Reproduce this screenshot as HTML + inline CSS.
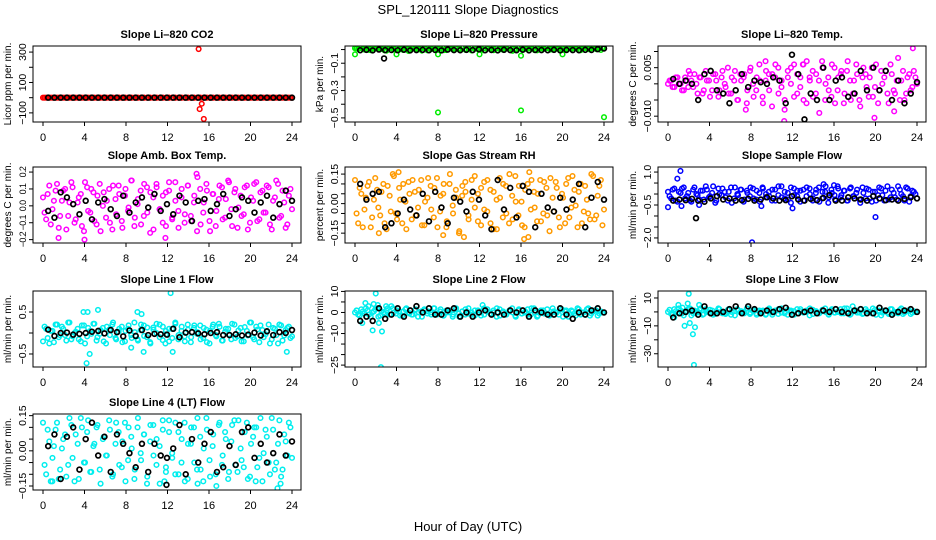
<!DOCTYPE html>
<html><head><meta charset="utf-8"><style>
html,body{margin:0;padding:0;background:#fff;}
svg{display:block;font-family:"Liberation Sans",sans-serif;}
</style></head><body>
<svg id="chart" width="936" height="540" viewBox="0 0 936 540">
<rect x="0" y="0" width="936" height="540" fill="#fff"/>
<text x="468" y="14" font-size="13" text-anchor="middle">SPL_120111  Slope Diagnostics</text>
<text x="468" y="531" font-size="13" text-anchor="middle">Hour of Day (UTC)</text>
</svg>
<script>
// ---- data ----
const xTickLabels = [0,4,8,12,16,20,24];

const p1Col = [0,0,0,0,0,0,0,0,0,0,0,0,0,0,0,0,0,0,0,0,0,0,0,0,0,0,0,0,0,0,0,0,0,0,0,0,0,0,0,0,0,0,0,0,0,0,0,0,0,0,0,0,0,0,0,0,0,0,0,0,0,0,0,0,0,0,0,0,0,0,0,0,0,0,0,0,0,0,0,0];
const p1Col2 = [0,0,0,0,0,0,0,0,0,0,0,0,0,0,0,0,0,0,0,0,0,0,0,0,0,0,0,0,0,0,0,0,0,0,0,0,0,0,0,0,0,0,0,0,0,0,0,0,0,0,0,0,0,0,0,0,0,0,0,0,0,0,0,0,0,0,0,0,0,0,0,0,0,0,0,0,0,0,0,0];
const p1Blk = [0,0,0,0,0,0,0,0,0,0,0,0,0,0,0,0,0,0,0,0,0,0,0,0,0,0,0,0,0,0,0,0,0,0,0,0,0,0,0,0];
const p1OutX = [15,15.1,15.3,15.5];
const p1OutY = [320,-75,-40,-140];
const p1BOutX = [], p1BOutY = [];

const p2Col = [.01,.005,.012,0,.008,-.005,.01,.012,.003,.009,-.008,.011,.006,.012,0,.01,.004,-.01,.012,.008,.002,.011,.007,-.006,.012,.009,.003,.01,.012,-.004,.006,.011,.008,0,.012,.005,.01,-.007,.012,.009,.004,.011,.006,.012,-.005,.01,.002,.012,.008,.011,-.009,.006,.012,.003,.01,.007,.012,-.004,.009,.011,.005,.012,0,.01,.008,-.006,.012,.004,.011,.009,.012,-.005,.007,.012,.003,.01,.008,.012,-.003,.011];
const p2Col2 = [.008,.012,.004,.01,-.002,.011,.007,.012,.005,-.006,.01,.012,.002,.009,.011,-.003,.012,.006,.01,.004,.012,-.008,.009,.011,.003,.012,.007,.01,-.005,.012,.008,.004,.011,.01,.012,-.002,.006,.012,.009,.003,.011,-.007,.012,.008,.005,.01,.012,0,.009,.011,.006,-.004,.012,.01,.003,.011,.008,.012,-.006,.009,.005,.012,.01,.002,.011,.007,-.003,.012,.009,.004,.011,.012,-.005,.008,.01,.006,.012,.003,.011,.009];
const p2Blk = [-.005,-.002,-.006,0,-.004,-.003,-.005,-.001,-.006,-.004,-.002,-.005,-.003,-.006,0,-.004,-.005,-.002,-.004,.002,-.005,-.003,-.006,-.002,-.004,-.005,-.001,-.006,-.003,-.004,-.005,-.002,-.006,-.003,-.004,-.005,-.002,-.003,.003,.008];
const p2OutX = [0,4,8,12,16,20,8,16,24];
const p2OutY = [-.035,-.035,-.035,-.035,-.045,-.035,-.46,-.445,-.495];
const p2BOutX = [2.8], p2BOutY = [-.065];

const p3Col = [0,.001,-.001,.002,0,-.002,.001,.003,-.001,0,.002,-.003,.004,.001,-.002,.003,-.004,.002,0,.005,-.003,.001,-.005,.003,.002,-.006,.004,0,-.002,.006,-.004,.001,.003,-.007,.002,.005,-.001,-.008,.004,0,.006,-.003,.002,-.005,.007,.001,-.004,.003,-.009,.005,0,-.002,.006,-.006,.002,.004,-.003,.007,-.005,.001,.003,-.007,.005,-.001,.002,-.004,.006,-.002,0,.004,-.006,.003,-.003,.008,.001,-.005,.002,-.002,.004,0];
const p3Col2 = [.001,-.001,.002,0,-.002,.002,-.001,.001,.003,-.003,.002,-.002,.001,-.004,.003,.001,-.002,.004,-.001,-.003,.002,.004,-.005,.001,.003,-.002,.005,-.004,.002,.001,-.006,.004,-.002,.003,.006,-.003,.001,-.005,.002,.005,-.004,.003,-.001,.006,-.006,.002,.004,-.003,.001,.007,-.005,.002,-.004,.005,-.002,.003,-.006,.004,.001,-.003,.006,-.005,.002,.003,-.004,.005,-.001,-.006,.004,.002,-.003,.006,-.002,.001,-.005,.004,-.003,.003,-.001,.002];
const p3Blk = [.0015,0,.001,0,-.005,.003,.004,-.002,-.003,-.006,-.002,.003,-.001,.001,.0005,0,.002,.001,-.006,.009,.003,-.011,-.003,-.005,.005,-.005,.001,.002,-.004,-.003,.004,-.002,.005,-.002,.004,-.005,.001,-.006,-.003,.0005];
const p3OutX = [23.6,11.2,19.9,7.5,2,9.4,13,21.8];
const p3OutY = [.011,-.0115,-.0105,-.008,.004,.007,.006,-.0085];
const p3BOutX = [], p3BOutY = [];

const p4Col = [.05,-.08,.12,-.02,.09,-.13,.03,.1,-.06,.14,-.1,.02,.07,-.15,.11,-.04,.08,-.11,.13,0,-.07,.1,-.14,.04,.12,-.09,.06,-.03,.15,-.12,.01,.09,-.06,.11,-.16,.05,.13,-.02,-.1,.08,.14,-.07,.03,-.13,.1,-.05,.12,-.09,.06,.17,-.11,.02,.09,-.15,.07,-.03,.12,-.08,.04,.14,-.12,.1,-.01,-.06,.11,-.14,.05,.13,-.09,.08,-.04,.12,-.11,.03,.15,-.07,.09,-.13,.06,-.02];
const p4Col2 = [-.04,.07,-.11,.03,.13,-.06,.09,-.14,.02,.11,-.08,.05,-.12,.14,-.03,.1,-.09,.06,-.15,.08,.03,-.1,.12,-.05,.07,-.13,.1,-.01,.15,-.07,.04,-.11,.13,-.04,.08,-.14,.11,-.02,.06,-.12,.09,-.08,.14,-.03,.05,-.1,.12,-.06,.02,-.15,.1,-.04,.13,-.09,.07,-.12,.04,.11,-.07,.15,-.02,.08,-.13,.06,-.05,.12,-.1,.03,.14,-.08,.09,-.04,.11,-.14,.05,.13,-.06,.02,-.11,.1];
const p4Blk = [-.03,-.07,.08,.05,.01,-.05,.03,-.08,.02,.04,-.02,-.06,.06,-.04,.02,.05,-.01,.07,-.03,.01,-.05,.06,.02,-.09,.03,.04,-.03,.01,.07,-.06,-.02,.05,.03,-.04,.02,.06,-.07,.01,.09,.03];
const p4OutX = [14.8,4,1.5,11.8];
const p4OutY = [.19,-.2,-.19,-.19];
const p4BOutX = [], p4BOutY = [];

const p5Col = [.12,-.1,.05,-.03,.09,-.12,.02,.07,-.06,.1,-.13,.04,.15,-.05,.08,-.1,.01,.11,-.08,.06,-.02,.12,-.11,.03,.09,-.07,.13,-.04,.05,-.12,.1,-.01,.07,-.15,.04,.11,-.06,.02,.14,-.09,.08,-.03,.12,-.1,.06,-.13,.03,.1,-.05,.15,-.08,.01,.09,-.11,.07,-.17,.12,-.02,.05,-.09,.11,-.06,.13,-.04,.08,-.12,.03,.1,-.07,.14,-.01,.06,-.1,.09,-.05,.15,-.08,.04,.12,-.03];
const p5Col2 = [-.05,.08,-.12,.03,.11,-.07,.13,-.02,.06,-.1,.09,-.04,.14,-.08,.02,.1,-.13,.05,.12,-.06,.07,-.11,.01,.13,-.03,.08,-.12,.04,.1,-.09,.15,-.05,.03,-.14,.09,.06,-.08,.12,-.02,.05,-.11,.11,-.04,.07,-.13,.02,.13,-.07,.09,-.1,.04,.14,-.06,.01,-.12,.1,-.03,.06,-.09,.12,-.05,.08,-.14,.03,.11,-.07,.05,-.1,.13,-.02,.07,-.12,.1,-.04,.02,-.08,.14,-.06,.09,-.11];
const p5Blk = [.1,.02,.05,.06,-.12,-.1,-.05,.02,-.03,-.06,.05,-.09,.06,-.02,-.1,.03,.01,-.04,.06,.02,-.06,-.13,.12,-.03,.08,-.07,.09,.06,-.12,.05,-.02,-.04,.03,-.03,.02,.1,-.12,.03,.11,.02];
const p5OutX = [4.2,8.5,10.5,16.3,16.8,2.3];
const p5OutY = [.16,-.16,-.17,-.18,.16,-.15];
const p5BOutX = [], p5BOutY = [];

const p6Col = [.1,-.2,.25,-.35,.05,.3,-.1,-.3,.2,0,-.25,.15,.35,-.15,.05,-.4,.25,-.05,.1,-.3,.3,-.2,0,.2,-.35,.15,-.1,.25,-.25,.05,.3,-.15,.1,-.3,.2,-.05,.35,-.2,.05,-.4,.25,-.1,.15,-.3,.3,0,-.2,.2,-.35,.1,.35,-.15,.05,-.25,.25,-.05,.15,-.3,.3,-.1,.2,-.4,.05,.25,-.2,.1,-.3,.3,-.05,.15,-.25,.2,-.15,.35,0,-.3,.25,-.1,.1,-.2];
const p6Col2 = [-.1,.2,-.3,.1,.25,-.2,.05,-.35,.3,-.05,.15,-.25,.2,-.1,.35,-.3,0,.25,-.15,.1,-.4,.3,-.05,.2,-.25,.05,.3,-.2,.15,-.35,.25,0,-.1,.2,-.3,.35,-.15,.1,-.25,.3,-.05,.15,-.35,.2,-.1,.25,-.3,.05,.3,-.2,.1,-.4,.2,-.05,.35,-.15,.15,-.3,.25,-.1,.05,-.25,.3,-.2,.2,-.35,.1,-.05,.25,-.3,.35,-.15,.05,-.25,.2,-.1,.3,-.35,.15,0];
const p6Blk = [-.3,-.25,-.28,-.22,-.3,-.35,-.2,-.1,-.25,-.2,-.3,-.28,-.22,-.3,-.25,-.15,-.2,-.3,-.28,-.1,-.25,-.3,-.22,-.28,-.18,-.05,-.3,-.3,-.15,-.2,-.25,-.3,-.1,-.2,-.28,-.25,-.3,-.22,-.15,-.2];
const p6OutX = [0,0.9,1.2,1.3,8.1,12,20,3,9,15,16];
const p6OutY = [-.6,.7,1.05,-.55,-2.2,-.65,-1.05,-.5,-.55,.45,.4];
const p6BOutX = [2.7], p6BOutY = [-1.1];

const p7Col = [-.2,.1,-.25,.05,.2,-.1,.15,-.05,.25,-.15,0,.1,-.2,.18,-.08,.05,.22,-.18,-.02,.12,-.25,.08,.2,-.12,.03,.15,-.2,.1,-.05,.25,-.15,.07,.18,-.1,-.22,.13,0,.2,-.17,.05,.1,-.12,.22,-.05,.15,-.2,.08,-.1,.18,.02,-.15,.12,-.22,.05,.2,-.08,.15,-.18,.1,-.03,.22,-.12,.06,-.2,.14,-.06,.25,-.15,.08,.18,-.1,.03,-.25,.12,-.05,.2,-.18,.07,.15,-.08];
const p7Col2 = [.15,-.12,.05,-.22,.2,-.05,.1,-.18,.25,-.08,.03,-.15,.18,-.25,.12,-.02,.22,-.1,.07,-.2,.15,-.05,.25,-.15,.1,-.22,.05,.18,-.12,.02,-.18,.2,-.07,.13,-.25,.08,.22,-.1,.15,-.03,-.2,.1,.25,-.15,.05,-.08,.2,-.22,.12,-.02,.18,-.12,.08,-.25,.15,-.05,.22,-.18,.03,.1,-.15,.2,-.08,.12,-.2,.05,.25,-.1,.15,-.22,.07,-.03,.2,-.15,.1,-.25,.18,-.06,.12,-.12];
const p7Blk = [.08,-.07,0,.01,-.04,-.02,0,.03,.05,-.01,.07,.02,-.08,.06,-.07,.07,-.05,-.02,-.03,-.04,.1,-.1,.01,.02,-.01,-.03,0,.02,-.05,-.05,-.03,-.06,-.04,.01,-.06,.04,-.05,.02,0,.07];
const p7OutX = [4.2,4.5,3.9,4.3,5.3,9.1,9.5,12.3,12.5,9.7,23.5,8.5,11.8];
const p7OutY = [-.72,-.5,.5,.5,.55,.5,.45,.95,-.45,-.45,-.45,-.35,-.25];
const p7BOutX = [], p7BOutY = [];

const p8Col = [0,-1,1.5,-.5,1,-2,.5,2,-1.5,0,1,-1,2,-.5,.5,-1.5,1.5,0,-1,1,-2,.5,1.5,-.5,0,2,-1,.5,-1.5,1,0,-2,1.5,-.5,.5,-1,2,0,-1.5,1,.5,-1,1.5,-.5,0,2,-1.5,.5,-1,1,0,-2,1.5,-.5,.5,-1,2,0,-1.5,1,-.5,1.5,-1,.5,0,2,-2,1,-.5,.5,-1.5,1.5,0,-1,2,-.5,1,-1.5,.5,0];
const p8Col2 = [1,-1.5,.5,2,-1,0,1.5,-2,.5,-.5,2,-1,0,1,-1.5,.5,2,-.5,-1,1.5,0,-2,1,.5,-1,2,-.5,1.5,-1.5,0,1,-1,2,-2,.5,1.5,-.5,-1,1,0,-1.5,2,.5,-.5,1,-2,1.5,0,-1,.5,2,-1.5,1,-.5,0,1.5,-1,2,-2,.5,1,-.5,-1.5,2,0,-1,1.5,.5,-2,1,-.5,2,-1,0,1.5,-1.5,.5,1,-.5,0];
const p8Blk = [-4,-2,-4,2,-3,-1,2,-2,1,3,0,2,-1,-1,1,2,-2,0,-2,0,1,-1,0,-1,1,0,1,-2,1,0,-1,-1,2,-1,-3,0,-1,1,2,0];
const p8OutX = [2,1.8,1,.7,1.7,2.3,2.6,2.5,3,3.5,12.3,1.3,2.2];
const p8OutY = [9,4,4.5,-5,-8.5,-5,-9,-26,3,3,3.5,3,3.5];
const p8BOutX = [], p8BOutY = [];

const p9Col = [0,-1.5,2,-.5,1,-2.5,.5,2.5,-1,0,1.5,-2,2,-.5,1,-1.5,2.5,0,-1,1.5,-2,.5,2,-.5,0,2.5,-1.5,.5,-1,1,0,-2,1.5,-.5,1,-1.5,2.5,0,-2,1,.5,-1,2,-.5,0,2.5,-1.5,.5,-1,1.5,0,-2,2,-.5,.5,-1,2.5,0,-1.5,1,-.5,2,-1,.5,0,2.5,-2,1,-.5,.5,-1.5,2,0,-1,2.5,-.5,1,-1.5,.5,0];
const p9Col2 = [1.5,-2,.5,2.5,-1,0,2,-2.5,1,-.5,2.5,-1.5,0,1.5,-2,.5,2,-1,-1.5,2,0,-2.5,1,.5,-1,2.5,-.5,1.5,-2,0,1,-1.5,2.5,-2,.5,2,-.5,-1,1.5,0,-2,2,.5,-.5,1,-2.5,1.5,0,-1,.5,2.5,-1.5,1,-.5,0,2,-1,2.5,-2,.5,1,-.5,-1.5,2,0,-1,1.5,.5,-2.5,1,-.5,2,-1,0,1.5,-1.5,.5,1,-.5,0];
const p9Blk = [-4,-1,0,1,-2,4,-1,-1,0,2,4,-1,4,2,-1,1,0,2,3,-2,-1,0,1,-1,1,0,2,0,-1,1,2,-1,-1,3,1,-2,0,1,2,0];
const p9OutX = [2,1,1.9,3,1.6,2.1,2.4,2.6,2.5,.6,17.8,1.4];
const p9OutY = [13,5,6,5,-10,-8,-16,-11,-38,-4,4,3];
const p9BOutX = [], p9BOutY = [];

const p10Col = [.12,-.1,.04,-.03,.09,-.12,.01,.07,-.06,.11,-.13,.03,.14,-.05,.08,-.09,.02,.1,-.08,.05,-.02,.13,-.11,.03,.08,-.07,.12,-.04,.06,-.12,.1,-.01,.07,-.14,.04,.11,-.06,.02,.13,-.09,.08,-.03,.12,-.1,.05,-.13,.03,.1,-.05,.14,-.08,.01,.09,-.11,.07,-.15,.12,-.02,.05,-.09,.11,-.06,.13,-.04,.08,-.12,.03,.1,-.07,.14,-.01,.06,-.1,.09,-.05,.13,-.08,.04,.12,-.03];
const p10Col2 = [-.06,.09,-.13,.02,.12,-.08,.05,-.11,.14,-.03,.07,-.12,.1,-.05,.13,-.09,.03,.11,-.14,.06,-.02,.09,-.1,.12,-.06,.04,-.13,.1,.01,-.08,.14,-.04,.07,-.11,.11,-.02,.05,-.14,.09,-.07,.13,-.01,-.1,.08,-.05,.12,-.12,.03,.1,-.08,.06,-.13,.14,-.04,.02,-.1,.11,-.06,.08,-.12,.04,.13,-.09,.01,-.07,.12,-.11,.06,.1,-.03,-.13,.09,-.05,.14,-.08,.03,-.11,.07,-.02,.1];
const p10Blk = [.02,.07,-.12,.06,.1,-.08,.05,.12,-.02,.06,-.09,.07,.03,-.01,-.07,.03,-.09,.03,-.02,-.03,.01,.11,-.1,.05,-.05,.03,.08,-.09,-.07,.02,-.06,.08,.1,-.03,.03,-.05,-.01,.07,-.02,.04];
const p10OutX = [.9,11.7,22.6,22.9,20.5,14.9];
const p10OutY = [-.13,-.13,-.16,-.14,-.13,-.14];
const p10BOutX = [11.9], p10BOutY = [-.145];

// ---- panel definitions ----
const panels = [
 {name:'co2', title:'Slope Li\u2013820 CO2', ylab:'Licor ppm per min.', col:0,row:0, ymin:-160,ymax:340, ticks:[-100,0,100,200,300], labels:[[-100,'\u2212100'],[100,'100'],[300,'300']], color:'#ff0000', c:p1Col,c2:p1Col2,b:p1Blk,ox:p1OutX,oy:p1OutY,bx:p1BOutX,by:p1BOutY},
 {name:'pressure', title:'Slope Li\u2013820 Pressure', ylab:'kPa per min.', col:1,row:0, ymin:-0.53,ymax:0.026, ticks:[-0.5,-0.4,-0.3,-0.2,-0.1,0], labels:[[-0.5,'\u22120.5'],[-0.3,'\u22120.3'],[-0.1,'\u22120.1']], color:'#00ee00', c:p2Col,c2:p2Col2,b:p2Blk,ox:p2OutX,oy:p2OutY,bx:p2BOutX,by:p2BOutY},
 {name:'temp', title:'Slope Li\u2013820 Temp.', ylab:'degrees C per min.', col:2,row:0, ymin:-0.0118,ymax:0.0117, ticks:[-0.01,-0.005,0,0.005,0.01], labels:[[-0.01,'\u22120.010'],[0.005,'0.005']], color:'#ff00ff', c:p3Col,c2:p3Col2,b:p3Blk,ox:p3OutX,oy:p3OutY,bx:p3BOutX,by:p3BOutY},
 {name:'amb-box-temp', title:'Slope Amb. Box Temp.', ylab:'degrees C per min.', col:0,row:1, ymin:-0.22,ymax:0.23, ticks:[-0.2,-0.1,0,0.1,0.2], labels:[[-0.2,'\u22120.2'],[-0.1,'\u22120.1'],[0,'0.0'],[0.1,'0.1'],[0.2,'0.2']], color:'#ff00ff', c:p4Col,c2:p4Col2,b:p4Blk,ox:p4OutX,oy:p4OutY,bx:p4BOutX,by:p4BOutY, small:true},
 {name:'gas-stream-rh', title:'Slope Gas Stream RH', ylab:'percent per min.', col:1,row:1, ymin:-0.2,ymax:0.186, ticks:[-0.15,-0.1,-0.05,0,0.05,0.1,0.15], labels:[[-0.15,'\u22120.15'],[0,'0.00'],[0.15,'0.15']], color:'#ff9a00', c:p5Col,c2:p5Col2,b:p5Blk,ox:p5OutX,oy:p5OutY,bx:p5BOutX,by:p5BOutY},
 {name:'sample-flow', title:'Slope Sample Flow', ylab:'ml/min per min.', col:2,row:1, ymin:-2.23,ymax:1.23, ticks:[-2,-1.5,-1,-0.5,0,0.5,1], labels:[[-2,'\u22122.0'],[-0.5,'\u22120.5'],[1,'1.0']], color:'#0000ff', c:p6Col,c2:p6Col2,b:p6Blk,ox:p6OutX,oy:p6OutY,bx:p6BOutX,by:p6BOutY},
 {name:'line1-flow', title:'Slope Line 1 Flow', ylab:'ml/min per min.', col:0,row:2, ymin:-0.81,ymax:1.0, ticks:[-0.5,0,0.5], labels:[[-0.5,'\u22120.5'],[0.5,'0.5']], color:'#00eeee', c:p7Col,c2:p7Col2,b:p7Blk,ox:p7OutX,oy:p7OutY,bx:p7BOutX,by:p7BOutY},
 {name:'line2-flow', title:'Slope Line 2 Flow', ylab:'ml/min per min.', col:1,row:2, ymin:-25.9,ymax:10.2, ticks:[-25,-20,-15,-10,-5,0,5,10], labels:[[-25,'\u221225'],[-10,'\u221210'],[0,'0'],[10,'10']], color:'#00eeee', c:p8Col,c2:p8Col2,b:p8Blk,ox:p8OutX,oy:p8OutY,bx:p8BOutX,by:p8BOutY},
 {name:'line3-flow', title:'Slope Line 3 Flow', ylab:'ml/min per min.', col:2,row:2, ymin:-39.5,ymax:15, ticks:[-30,-20,-10,0,10], labels:[[-30,'\u221230'],[-10,'\u221210'],[10,'10']], color:'#00eeee', c:p9Col,c2:p9Col2,b:p9Blk,ox:p9OutX,oy:p9OutY,bx:p9BOutX,by:p9BOutY},
 {name:'line4-flow', title:'Slope Line 4 (LT) Flow', ylab:'ml/min per min.', col:0,row:3, ymin:-0.167,ymax:0.157, ticks:[-0.15,-0.1,-0.05,0,0.05,0.1,0.15], labels:[[-0.15,'\u22120.15'],[0,'0.00'],[0.15,'0.15']], color:'#00eeee', c:p10Col,c2:p10Col2,b:p10Blk,ox:p10OutX,oy:p10OutY,bx:p10BOutX,by:p10BOutY}
];

const colLeft = [33,345,658], rowTop = [46,167,291,414];
const BW = 268, BH = 76;
const NS = 'http://www.w3.org/2000/svg';
const svg = document.getElementById('chart');
function mk(tag, attrs, parent){
  const e = document.createElementNS(NS, tag);
  for (const k in attrs) e.setAttribute(k, attrs[k]);
  (parent||svg).appendChild(e);
  return e;
}

panels.forEach(p => {
  const L = colLeft[p.col], T = rowTop[p.row];
  const xs = h => L + 10 + h/24*(BW-19);
  const ys = v => T + (p.ymax - v)/(p.ymax - p.ymin)*BH;
  const g = mk('g', {});
  
  

  const t = mk('text', {x:L+BW/2, y:T-8, 'font-size':11, 'font-weight':'bold', 'text-anchor':'middle'}, g);
  t.textContent = p.title;
  
  

  const yl = mk('text', {transform:`translate(${L-22},${T+BH/2}) rotate(-90)`, 'font-size':10, 'text-anchor':'middle'}, g);
  yl.textContent = p.ylab;
  
  

  const clip = 'clip-' + p.name;
  const cp = mk('clipPath', {id:clip}, g);
  mk('rect', {x:L, y:T, width:BW, height:BH}, cp);
  const pts = mk('g', {'clip-path':`url(#${clip})`, fill:'none', 'stroke-width':1.5}, g);
  
  

  const n = p.c.length;
  p.c.forEach((v,i) => {
    const c = mk('circle', {cx:xs(i*24/(n-1)), cy:ys(v), r:2.3, stroke:p.color}, pts);
    
    
  });
  const n2 = p.c2.length;
  p.c2.forEach((v,i) => {
    const c = mk('circle', {cx:xs((i+0.5)*24/n2), cy:ys(v), r:2.3, stroke:p.color}, pts);
    
    
  });
  p.ox.forEach((x,i) => {
    const c = mk('circle', {cx:xs(x), cy:ys(p.oy[i]), r:2.3, stroke:p.color}, pts);
    
    
  });
  const nb = p.b.length;
  p.b.forEach((v,i) => {
    const c = mk('circle', {cx:xs(0.5 + i*23.5/(nb-1)), cy:ys(v), r:2.4, stroke:'#000', 'stroke-width':1.7}, pts);
    
    
  });
  p.bx.forEach((x,i) => {
    const c = mk('circle', {cx:xs(x), cy:ys(p.by[i]), r:2.4, stroke:'#000', 'stroke-width':1.7}, pts);
    
    
  });

  const box = mk('rect', {x:L, y:T, width:BW, height:BH, fill:'none', stroke:'#000', 'stroke-width':1}, g);
  
  

  xTickLabels.forEach(h => {
    mk('line', {x1:xs(h), x2:xs(h), y1:T+BH, y2:T+BH+4, stroke:'#000'}, g);
    const tl = mk('text', {x:xs(h), y:T+BH+19, 'font-size':11, 'text-anchor':'middle'}, g);
    tl.textContent = h;
    
    
  });
  p.ticks.forEach(v => {
    mk('line', {x1:L-4, x2:L, y1:ys(v), y2:ys(v), stroke:'#000'}, g);
  });
  p.labels.forEach(([v,s]) => {
    const tl = mk('text', {transform:`translate(${L-7},${ys(v)}) rotate(-90)`, 'font-size': p.small ? 9 : 10.5, 'letter-spacing': p.small ? -0.6 : 0, 'text-anchor':'middle'}, g);
    tl.textContent = s;
    
    
  });
});
</script>
</body></html>
